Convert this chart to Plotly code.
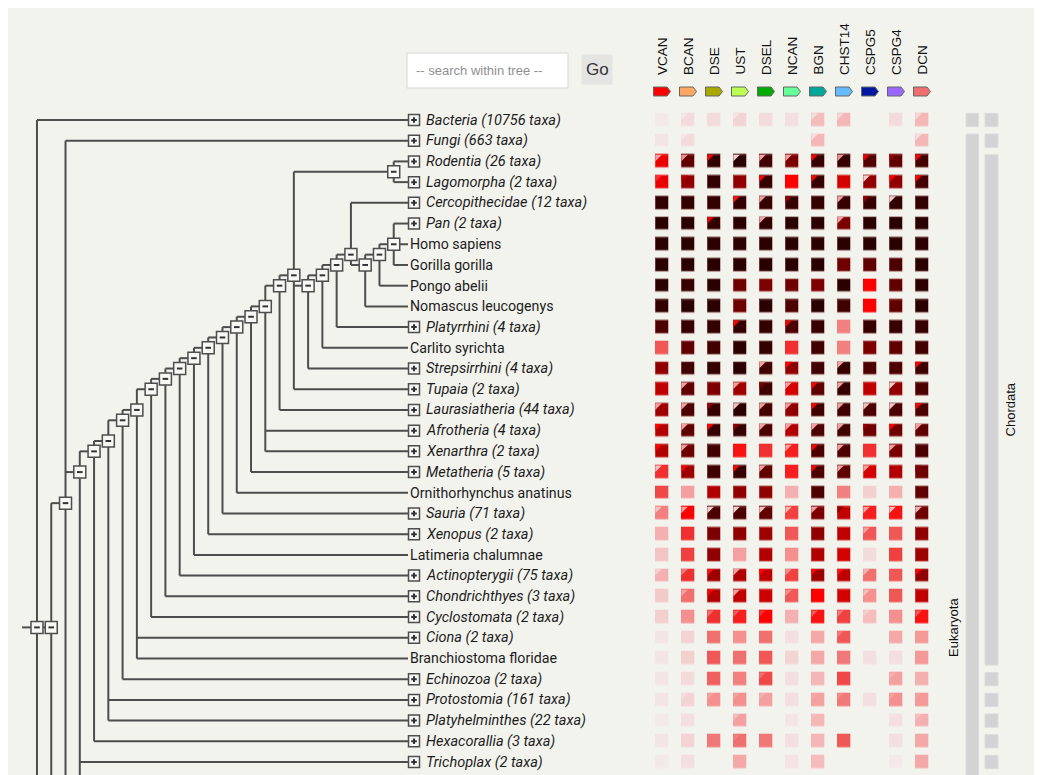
import numpy as np
import plotly.graph_objects as go

# ---------------------------------------------------------------- data
GENES = ["VCAN", "BCAN", "DSE", "UST", "DSEL", "NCAN", "BGN", "CHST14", "CSPG5", "CSPG4", "DCN"]
GENE_COLORS = ["#ff0000", "#ffa866", "#a8a800", "#bbff55", "#00aa00", "#66ff99",
               "#00a89a", "#66bbff", "#0018a0", "#9966ff", "#ee7070"]

HID = None  # leaf lying below the visible window

TREE = ("root", [
    "Bacteria (10756 taxa)",
    ("Eukaryota", [
        ("Opisthokonta", [
            "Fungi (663 taxa)",
            ("Metazoa", [
                ("Eumetazoa", [
                    ("Bilateria", [
                        ("Deuterostomia", [
                            ("Chordata", [
                                ("Vertebrata", [
                                    ("Gnathostomata", [
                                        ("Osteichthyes", [
                                            ("Sarcopterygii", [
                                                ("Tetrapoda", [
                                                    ("Amniota", [
                                                        ("Mammalia", [
                                                            ("Theria", [
                                                                ("Eutheria", [
                                                                    ("Boreoeutheria", [
                                                                        ("Euarchontoglires", [
                                                                            ("Glires", ["Rodentia (26 taxa)", "Lagomorpha (2 taxa)"]),
                                                                            ("Primates", [
                                                                                ("Haplorrhini", [
                                                                                    ("Simiiformes", [
                                                                                        ("Catarrhini", [
                                                                                            "Cercopithecidae (12 taxa)",
                                                                                            ("Hominoidea", [
                                                                                                ("Hominidae", [
                                                                                                    ("Homininae", ["Pan (2 taxa)", "Homo sapiens", "Gorilla gorilla"]),
                                                                                                    "Pongo abelii"]),
                                                                                                "Nomascus leucogenys"])]),
                                                                                        "Platyrrhini (4 taxa)"]),
                                                                                    "Carlito syrichta"]),
                                                                                "Strepsirrhini (4 taxa)"]),
                                                                            "Tupaia (2 taxa)"]),
                                                                        "Laurasiatheria (44 taxa)"]),
                                                                    "Afrotheria (4 taxa)",
                                                                    "Xenarthra (2 taxa)"]),
                                                                "Metatheria (5 taxa)"]),
                                                            "Ornithorhynchus anatinus"]),
                                                        "Sauria (71 taxa)"]),
                                                    "Xenopus (2 taxa)"]),
                                                "Latimeria chalumnae"]),
                                            "Actinopterygii (75 taxa)"]),
                                        "Chondrichthyes (3 taxa)"]),
                                    "Cyclostomata (2 taxa)"]),
                                "Ciona (2 taxa)",
                                "Branchiostoma floridae"]),
                            "Echinozoa (2 taxa)"]),
                        "Protostomia (161 taxa)",
                        "Platyhelminthes (22 taxa)"]),
                    "Hexacorallia (3 taxa)"]),
                "Trichoplax (2 taxa)",
                HID]),
            HID, HID, HID, HID]),
        HID, HID, HID, HID, HID, HID, HID, HID, HID, HID, HID, HID]),
    HID])

# heat values (0-100), one row per visible taxon, columns follow GENES
VALUES = [
    [3, 10, 10, 13, 10, 8, 22, 24, None, 10, 24],      # Bacteria
    [5, 10, None, None, None, None, 24, None, None, None, 24],  # Fungi
    [62, 90, 98, 100, 95, 84, 97, 97, 92, 90, 94],     # Rodentia
    [62, 80, 98, 80, 97, 58, 97, 66, 80, 80, 94],      # Lagomorpha
    [98, 98, 98, 98, 97, 97, 98, 97, 97, 98, 98],      # Cercopithecidae
    [100, 100, 98, 100, 98, 100, 100, 84, 100, 100, 100],  # Pan
    [100, 100, 100, 100, 100, 100, 100, 100, 100, 100, 100],  # Homo
    [100, 100, 100, 100, 100, 100, 100, 87, 90, 93, 100],  # Gorilla
    [100, 97, 100, 87, 84, 87, 84, 100, 58, 90, 100],  # Pongo
    [98, 100, 100, 87, 100, 93, 100, 95, 58, 90, 100],  # Nomascus
    [93, 97, 98, 98, 98, 93, 97, 38, 97, 97, 97],      # Platyrrhini
    [45, 90, 95, 100, 98, 50, 95, 38, 84, 90, 95],     # Carlito
    [80, 95, 98, 100, 95, 80, 95, 97, 93, 93, 95],     # Strepsirrhini
    [70, 90, 84, 77, 95, 66, 90, 97, 70, 80, 93],      # Tupaia
    [77, 93, 97, 100, 94, 80, 95, 95, 93, 93, 93],     # Laurasiatheria
    [73, 90, 97, 97, 93, 73, 93, 95, 87, 87, 90],      # Afrotheria
    [73, 87, 95, 55, 50, 53, 93, 93, 50, 84, 93],      # Xenarthra
    [50, 77, 95, 97, 90, 53, 93, 90, 66, 73, 87],      # Metatheria
    [47, 30, 73, 80, 80, 26, 93, 38, 15, 26, 90],      # Ornithorhynchus
    [38, 58, 93, 93, 90, 48, 84, 70, 53, 55, 87],      # Sauria
    [26, 50, 84, 80, 77, 45, 80, 70, 45, 45, 80],      # Xenopus
    [19, 48, 80, 30, 73, 34, 73, 66, 10, 48, 77],      # Latimeria
    [26, 50, 77, 73, 70, 48, 77, 70, 42, 45, 80],      # Actinopterygii
    [17, 42, 73, 70, 68, 45, 58, 66, 34, 45, 70],      # Chondrichthyes
    [15, 34, 50, 53, 58, 26, 55, 48, 22, 34, 55],      # Cyclostomata
    [5, 13, 42, 34, 42, 8, 28, 45, None, 28, 32],      # Ciona
    [5, 15, 45, 42, 45, 13, 28, 40, 8, 8, 32],         # Branchiostoma
    [5, 10, 44, 38, 47, 8, 24, 47, None, 30, 26],      # Echinozoa
    [5, 13, 34, 34, 30, 8, 30, 40, 8, 34, 32],         # Protostomia
    [3, 8, None, 30, None, 5, 24, None, None, 8, 26],  # Platyhelminthes
    [5, 13, 40, 42, 40, 8, 24, 45, None, 8, 28],       # Hexacorallia
    [3, 8, None, 28, None, 6, 22, None, None, 3, 28],  # Trichoplax
]

N = None
# value of the small upper-left corner wedge of a cell (None = no wedge)
CORNERS = [
    [N, 3, N, 5, N, N, 8, 10, N, N, 10],
    [N, 4, N, N, N, N, 8, N, N, N, 8],
    [30, 34, 58, 15, 30, 30, 58, 34, 62, 80, 58],
    [50, 72, N, N, 58, N, 58, N, 15, 58, 58],
    [N, N, N, 55, 30, 80, N, 30, 80, 15, N],
    [N, N, 62, N, 30, N, N, 30, N, N, N],
    [N, N, N, N, N, N, N, N, N, N, N],
    [N, N, N, N, N, N, N, N, N, N, N],
    [N, N, N, N, N, N, N, N, N, N, N],
    [N, N, N, N, N, N, N, N, N, N, N],
    [N, N, N, 58, N, 58, N, N, N, N, N],
    [N, N, N, N, N, N, N, N, N, N, N],
    [N, N, N, N, 30, 58, N, 30, N, N, 58],
    [N, 30, N, 30, 84, 30, 58, 30, N, 15, N],
    [30, 30, 80, 20, 30, 30, 58, 30, 20, 20, 58],
    [58, 30, 58, 80, 30, 30, 30, 30, 80, 58, 30],
    [58, 30, N, N, N, 30, 58, 30, N, 30, N],
    [20, 58, N, 58, 30, N, 58, 30, 30, N, 84],
    [N, N, N, N, N, N, N, N, N, N, N],
    [20, 30, 15, 15, 20, 25, 30, 80, 30, 20, 25],
    [N, N, N, N, N, N, N, N, 30, N, N],
    [N, N, N, N, N, N, N, N, N, N, N],
    [15, 40, 55, 30, 58, 35, 58, 55, 25, N, 58],
    [N, 30, 58, 30, N, 34, N, N, 22, N, N],
    [N, N, 42, 45, 50, N, 45, 40, 15, N, 45],
    [N, N, N, N, N, N, N, 40, N, N, N],
    [N, N, N, N, N, N, N, N, N, N, N],
    [N, N, N, N, 42, N, N, N, N, 26, N],
    [N, 8, 30, 30, 26, N, 28, 35, N, 30, 30],
    [N, N, N, 22, N, N, 22, N, N, 5, 22],
    [N, N, N, 38, N, N, N, N, N, N, N],
    [N, N, N, N, N, N, N, N, N, N, N],
]

# taxonomic ranges shown at the right (one entry per tree row, incl. rows below view)
LEVEL1 = ["Bacteria"] + ["Eukaryota"] * 48 + ["Archaea"]
LEVEL2 = (["Bacteria", "Fungi"] + ["Chordata"] * 25 +
          ["Echinozoa", "Protostomia", "Platyhelminthes", "Hexacorallia", "Trichoplax"])

CS = [[0.0, "#f4f0f0"], [0.05, "#f3e5e5"], [0.15, "#f3d0d0"], [0.26, "#f4b0b0"],
      [0.34, "#f49090"], [0.42, "#f07070"], [0.5, "#f03030"], [0.58, "#ff0000"],
      [0.7, "#c00000"], [0.8, "#900000"], [0.9, "#600000"], [0.95, "#400000"],
      [1.0, "#2a0000"]]

# ---------------------------------------------------------------- geometry
FIG_W, FIG_H, PAGE_OFF = 1034, 767, 8
ROW0_PX, ROW_PX = 120.0, 20.71
LEAF_PX, STEP_PX = 408.0, 14.27
COL0_PX, COL_PX = 662.0, 26.0
CELL_PX = 13.3
BG = "#f3f3ee"
LINE = "#4d4d4d"


def px2paper(sx):
    return (sx - PAGE_OFF) / FIG_W


def py2paper(sy):
    return 1 - (sy - PAGE_OFF) / FIG_H


def colour_at(v):
    t = max(0.0, min(1.0, v / 100.0))
    for (p0, c0), (p1, c1) in zip(CS[:-1], CS[1:]):
        if p0 <= t <= p1:
            f = 0 if p1 == p0 else (t - p0) / (p1 - p0)
            a = [int(c0[i:i + 2], 16) for i in (1, 3, 5)]
            b = [int(c1[i:i + 2], 16) for i in (1, 3, 5)]
            return "rgb(%d,%d,%d)" % tuple(round(a[k] + (b[k] - a[k]) * f) for k in range(3))
    return CS[-1][1]


# ---------------------------------------------------------------- tree layout
rows, internal = [], []


def place(node):
    if not isinstance(node, tuple):
        r = len(rows)
        rows.append(node)
        return {"h": 0, "y": float(r), "leaves": [r], "kids": []}
    name, kids = node
    ks = [place(k) for k in kids]
    leaves = [l for k in ks for l in k["leaves"]]
    n = {"name": name, "h": 1 + max(k["h"] for k in ks), "y": float(np.mean(leaves)),
         "leaves": leaves, "kids": ks}
    internal.append(n)
    return n


root = place(TREE)

lx, ly = [], []
for n in internal:
    ys = [k["y"] for k in n["kids"]]
    lx += [n["h"], n["h"], None]
    ly += [min(ys), max(ys), None]
    for k in n["kids"]:
        lx += [n["h"], k["h"], None]
        ly += [k["y"], k["y"], None]
lx += [root["h"] + 1.05, root["h"], None]
ly += [root["y"], root["y"], None]

fig = go.Figure()
fig.add_trace(go.Scatter(x=lx, y=ly, mode="lines", line=dict(color=LINE, width=2),
                         hoverinfo="skip", showlegend=False))

# internal node boxes
nx = [n["h"] for n in internal]
ny = [n["y"] for n in internal]
fig.add_trace(go.Scatter(x=nx, y=ny, mode="markers", hoverinfo="skip", showlegend=False,
                         marker=dict(symbol="square", size=12, color="#f7f7f3",
                                     line=dict(color=LINE, width=1.5))))
fig.add_trace(go.Scatter(x=nx, y=ny, mode="markers", hoverinfo="skip", showlegend=False,
                         marker=dict(symbol="line-ew", size=4, line=dict(color="#333", width=2))))

# leaves
BOX_H = -6.0 / STEP_PX
vis_rows = [r for r, name in enumerate(rows) if name is not None]
collapsed = [r for r in vis_rows if "taxa" in rows[r]]
fig.add_trace(go.Scatter(x=[BOX_H] * len(collapsed), y=collapsed, mode="markers",
                         hoverinfo="skip", showlegend=False,
                         marker=dict(symbol="square", size=11, color="#f7f7f3",
                                     line=dict(color=LINE, width=1.5))))
fig.add_trace(go.Scatter(x=[BOX_H] * len(collapsed), y=collapsed, mode="markers",
                         hoverinfo="skip", showlegend=False,
                         marker=dict(symbol="cross-thin", size=4, line=dict(color="#333", width=2))))

annotations = []
for r in vis_rows:
    name = rows[r]
    is_col = "taxa" in name
    sx = 424.0 if is_col else 407.5
    annotations.append(dict(
        x=(LEAF_PX - sx) / STEP_PX, y=r, xref="x", yref="y", xanchor="left", yanchor="middle",
        text=("<i>%s</i>" % name) if is_col else name, showarrow=False,
        font=dict(family="Roboto, Arial, sans-serif", size=14.5 if is_col else 14.2,
                  color="#1c1c1c")))

# ---------------------------------------------------------------- heatmap
nrow = len(VALUES)
fig.add_trace(go.Heatmap(
    z=VALUES, x=list(range(len(GENES))), y=list(range(nrow)), xaxis="x2", yaxis="y",
    colorscale=CS, zmin=0, zmax=100, showscale=False, hoverinfo="skip",
    xgap=COL_PX - CELL_PX, ygap=ROW_PX - CELL_PX))

shapes = []
hx = CELL_PX / 2 / COL_PX
hy = CELL_PX / 2 / ROW_PX
lgx = 6.5 / COL_PX
lgy = 6.5 / ROW_PX
for r, crow in enumerate(CORNERS):
    for c, v in enumerate(crow):
        if VALUES[r][c] is None:
            continue
        if VALUES[r][c] >= 60:
            # faint light halo round the darker cells
            shapes.append(dict(type="rect", xref="x2", yref="y", x0=c - hx, x1=c + hx,
                               y0=r - hy, y1=r + hy, fillcolor="rgba(0,0,0,0)",
                               line=dict(color="rgba(235,185,185,0.35)", width=1), layer="above"))
        if v is None:
            continue
        x0, y0 = c - hx, r - hy
        shapes.append(dict(type="path", xref="x2", yref="y",
                           path="M%f,%f L%f,%f L%f,%f Z" % (x0, y0, x0 + lgx, y0, x0, y0 + lgy),
                           fillcolor=colour_at(v), line=dict(width=0), layer="above"))

# gene headers and tags
for i, g in enumerate(GENES):
    annotations.append(dict(x=i, y=py2paper(77), xref="x2", yref="paper", text=g,
                            textangle=-90, xanchor="center", yanchor="bottom", showarrow=False,
                            font=dict(family="Liberation Sans, Arial, sans-serif", size=13.5,
                                      color="#111")))
    x0, xp, x1 = i - 8.5 / COL_PX, i + 5 / COL_PX, i + 8.5 / COL_PX
    yt, yb = py2paper(87), py2paper(96)
    ym = (yt + yb) / 2
    shapes.append(dict(type="path", xref="x2", yref="paper",
                       path="M%f,%f L%f,%f L%f,%f L%f,%f L%f,%f Z" % (x0, yt, xp, yt, x1, ym, xp, yb, x0, yb),
                       fillcolor=GENE_COLORS[i], line=dict(color="#666", width=1)))

# ---------------------------------------------------------------- taxonomy bars


def runs(levels):
    out, start = [], 0
    for i in range(1, len(levels) + 1):
        if i == len(levels) or levels[i] != levels[start]:
            out.append((levels[start], start, i - 1))
            start = i
    return out


for levels, (bx0, bx1), side in ((LEVEL1, (966, 978.5), "left"), (LEVEL2, (985, 998), "right")):
    for name, a, b in runs(levels):
        shapes.append(dict(type="rect", xref="paper", yref="y",
                           x0=px2paper(bx0), x1=px2paper(bx1),
                           y0=a - CELL_PX / 2 / ROW_PX, y1=b + CELL_PX / 2 / ROW_PX,
                           fillcolor="#d3d3d3", line=dict(color="#dcdcdc", width=1)))
        if b - a >= 2:
            annotations.append(dict(
                x=px2paper(bx0 - 3) if side == "left" else px2paper(bx1 + 3),
                y=(a + b) / 2, xref="paper", yref="y", text=name, textangle=-90,
                xanchor="right" if side == "left" else "left", yanchor="middle",
                showarrow=False,
                font=dict(family="Liberation Sans, Arial, sans-serif", size=13, color="#111")))

# ---------------------------------------------------------------- search box
shapes.append(dict(type="rect", xref="paper", yref="paper", x0=px2paper(407), x1=px2paper(568),
                   y0=py2paper(88), y1=py2paper(53), fillcolor="#ffffff",
                   line=dict(color="#d6d6d6", width=1)))
shapes.append(dict(type="rect", xref="paper", yref="paper", x0=px2paper(582), x1=px2paper(612),
                   y0=py2paper(84), y1=py2paper(55), fillcolor="#e4e4e2",
                   line=dict(color="#e4e4e2", width=1)))
annotations.append(dict(x=px2paper(414), y=py2paper(70.5), xref="paper", yref="paper",
                        text="-- search within tree --", xanchor="left", yanchor="middle",
                        showarrow=False,
                        font=dict(family="Liberation Sans, Arial, sans-serif", size=13, color="#8f8f8f")))
annotations.append(dict(x=px2paper(597), y=py2paper(70), xref="paper", yref="paper",
                        text="Go", xanchor="center", yanchor="middle", showarrow=False,
                        font=dict(family="Liberation Sans, Arial, sans-serif", size=17, color="#333")))

# ---------------------------------------------------------------- layout
ax = dict(visible=False, showgrid=False, zeroline=False, fixedrange=True)
fig.update_layout(
    width=FIG_W, height=FIG_H, margin=dict(l=0, r=0, t=0, b=0),
    paper_bgcolor=BG, plot_bgcolor=BG, showlegend=False,
    xaxis=dict(ax, domain=[0, 1],
               range=[(LEAF_PX - PAGE_OFF) / STEP_PX, (LEAF_PX - PAGE_OFF - FIG_W) / STEP_PX]),
    xaxis2=dict(ax, domain=[0, 1], overlaying="x", anchor="y",
                range=[(PAGE_OFF - COL0_PX) / COL_PX, (PAGE_OFF + FIG_W - COL0_PX) / COL_PX]),
    yaxis=dict(ax, domain=[0, 1],
               range=[(PAGE_OFF + FIG_H - ROW0_PX) / ROW_PX, (PAGE_OFF - ROW0_PX) / ROW_PX]),
    shapes=shapes, annotations=annotations,
)

fig.write_html("out.html")
